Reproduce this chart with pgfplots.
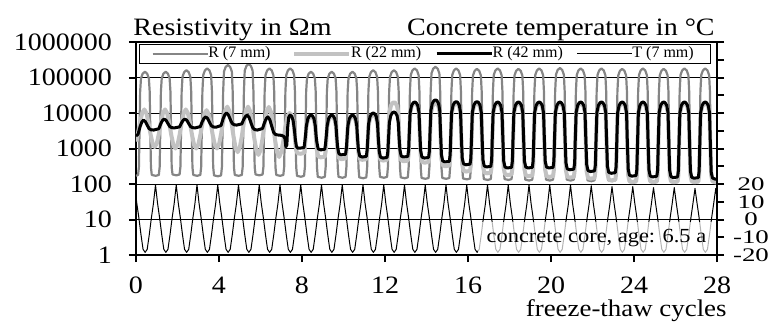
\documentclass[border=0pt]{standalone}
\usepackage{fontspec}
\setmainfont{Liberation Serif}[FakeStretch=1.12]
\newfontfamily\legendfont{Liberation Serif}
\newfontfamily\rightfont{Liberation Serif}[FakeStretch=1.4]
\usepackage{pgfplots}
\pgfplotsset{compat=1.18}
\definecolor{rseven}{gray}{0.52}
\definecolor{rtwentytwo}{gray}{0.76}

\begin{document}
\begin{tikzpicture}
\useasboundingbox (-68pt,-33.5pt) rectangle (319.5pt,127.5pt);
% resistivity (left, logarithmic)
\begin{axis}[
  name=main,
  at={(0,0)}, anchor=south west,
  scale only axis, width=290.5pt, height=106.5pt,
  xmin=0, xmax=28,
  ymode=log, ymin=1, ymax=1000000,
  xtick={0,4,...,28}, xticklabels={0,4,8,12,16,20,24,28},
  ytick={1,10,100,1000,10000,100000,1000000},
  yticklabels={1,10,100,1000,10000,100000,1000000},
  yminorticks=false, xminorticks=false,
  ymajorgrids, major grid style={black, line width=0.5pt},
  tick align=outside, major tick length=3.5pt,
  tick style={black, line width=1pt},
  xtick pos=bottom, ytick pos=left,
  axis line style={line width=1pt},
  tick label style={font=\fontsize{12.5}{14}\selectfont},
  yticklabel style={anchor=east, xshift=-5pt},
  xticklabel style={yshift=-4pt},
  legend columns=4,
  legend style={at={(0.0052,0.9906)}, anchor=north west, draw=black,
    line width=0.5pt, fill=white, inner xsep=6pt, inner ysep=0.3pt,
    font=\legendfont\fontsize{8}{9}\selectfont, nodes={inner sep=0.8pt},
    /tikz/every even column/.append style={column sep=0pt}},
  legend image code/.code={\draw[#1] (0pt,0pt) -- (27.5pt,0pt);},
]
% R (7 mm)
\addplot[rseven, line width=1.1pt, line join=round] coordinates {
(0,170)(0.10,180)(0.14,300)(0.17,3000)(0.20,40000)(0.24,94000)(0.32,128000)(0.43,145000)(0.54,128000)(0.62,94000)(0.66,40000)(0.69,3000)(0.72,300)(0.76,180)(0.95,170)
(1.10,180)(1.14,300)(1.17,3000)(1.20,40000)(1.24,94000)(1.32,128000)(1.43,145000)(1.54,128000)(1.62,94000)(1.66,40000)(1.69,3000)(1.72,300)(1.76,186)(1.95,175)
(2.10,186)(2.14,300)(2.17,3000)(2.20,40000)(2.24,104000)(2.32,141000)(2.43,160000)(2.54,141000)(2.62,104000)(2.66,40000)(2.69,3000)(2.72,300)(2.76,180)(2.95,170)
(3.10,180)(3.14,300)(3.17,3000)(3.20,40000)(3.24,117000)(3.32,158000)(3.43,180000)(3.54,158000)(3.62,117000)(3.66,40000)(3.69,3000)(3.72,300)(3.76,175)(3.95,165)
(4.10,175)(4.14,300)(4.17,3000)(4.20,40000)(4.24,146000)(4.32,198000)(4.43,225000)(4.54,198000)(4.62,146000)(4.66,40000)(4.69,3000)(4.72,300)(4.76,180)(4.95,170)
(5.10,180)(5.14,300)(5.17,3000)(5.20,40000)(5.24,156000)(5.32,211000)(5.43,240000)(5.54,211000)(5.62,156000)(5.66,40000)(5.69,3000)(5.72,300)(5.76,186)(5.95,175)
(6.10,186)(6.14,300)(6.17,3000)(6.20,40000)(6.24,117000)(6.32,158000)(6.43,180000)(6.54,158000)(6.62,117000)(6.66,40000)(6.69,3000)(6.72,300)(6.76,180)(6.95,170)
(7.10,180)(7.14,300)(7.17,3000)(7.20,40000)(7.24,117000)(7.32,158000)(7.43,180000)(7.54,158000)(7.62,117000)(7.66,40000)(7.69,3000)(7.72,300)(7.76,170)(7.95,160)
(8.10,170)(8.14,300)(8.17,3000)(8.20,40000)(8.24,94000)(8.32,128000)(8.43,145000)(8.54,128000)(8.62,94000)(8.66,40000)(8.69,3000)(8.72,300)(8.76,159)(8.95,150)
(9.10,159)(9.14,300)(9.17,3000)(9.20,40000)(9.24,94000)(9.32,128000)(9.43,145000)(9.54,128000)(9.62,94000)(9.66,40000)(9.69,3000)(9.72,300)(9.76,159)(9.95,150)
(10.10,159)(10.14,300)(10.17,3000)(10.20,40000)(10.24,94000)(10.32,128000)(10.43,145000)(10.54,128000)(10.62,94000)(10.66,40000)(10.69,3000)(10.72,300)(10.76,154)(10.95,145)
(11.10,154)(11.14,300)(11.17,3000)(11.20,40000)(11.24,104000)(11.32,141000)(11.43,160000)(11.54,141000)(11.62,104000)(11.66,40000)(11.69,3000)(11.72,300)(11.76,159)(11.95,150)
(12.10,159)(12.14,300)(12.17,3000)(12.20,40000)(12.24,104000)(12.32,141000)(12.43,160000)(12.54,141000)(12.62,104000)(12.66,40000)(12.69,3000)(12.72,300)(12.76,154)(12.95,145)
(13.10,154)(13.14,300)(13.17,3000)(13.20,40000)(13.24,117000)(13.32,158000)(13.43,180000)(13.54,158000)(13.62,117000)(13.66,40000)(13.69,3000)(13.72,300)(13.76,148)(13.95,140)
(14.10,148)(14.14,300)(14.17,3000)(14.20,40000)(14.24,130000)(14.32,176000)(14.43,200000)(14.54,176000)(14.62,130000)(14.66,40000)(14.69,3000)(14.72,300)(14.76,148)(14.95,140)
(15.10,148)(15.14,300)(15.17,3000)(15.20,40000)(15.24,117000)(15.32,158000)(15.43,180000)(15.54,158000)(15.62,117000)(15.66,40000)(15.69,3000)(15.72,300)(15.76,143)(15.95,135)
(16.10,143)(16.14,300)(16.17,3000)(16.20,40000)(16.24,114000)(16.32,154000)(16.43,175000)(16.54,154000)(16.62,114000)(16.66,40000)(16.69,3000)(16.72,300)(16.76,138)(16.95,130)
(17.10,138)(17.14,300)(17.17,3000)(17.20,40000)(17.24,117000)(17.32,158000)(17.43,180000)(17.54,158000)(17.62,117000)(17.66,40000)(17.69,3000)(17.72,300)(17.76,138)(17.95,130)
(18.10,138)(18.14,300)(18.17,3000)(18.20,40000)(18.24,114000)(18.32,154000)(18.43,175000)(18.54,154000)(18.62,114000)(18.66,40000)(18.69,3000)(18.72,300)(18.76,133)(18.95,125)
(19.10,133)(19.14,300)(19.17,3000)(19.20,40000)(19.24,117000)(19.32,158000)(19.43,180000)(19.54,158000)(19.62,117000)(19.66,40000)(19.69,3000)(19.72,300)(19.76,133)(19.95,125)
(20.10,133)(20.14,300)(20.17,3000)(20.20,40000)(20.24,120000)(20.32,163000)(20.43,185000)(20.54,163000)(20.62,120000)(20.66,40000)(20.69,3000)(20.72,300)(20.76,133)(20.95,125)
(21.10,133)(21.14,300)(21.17,3000)(21.20,40000)(21.24,117000)(21.32,158000)(21.43,180000)(21.54,158000)(21.62,117000)(21.66,40000)(21.69,3000)(21.72,300)(21.76,127)(21.95,120)
(22.10,127)(22.14,300)(22.17,3000)(22.20,40000)(22.24,117000)(22.32,158000)(22.43,180000)(22.54,158000)(22.62,117000)(22.66,40000)(22.69,3000)(22.72,300)(22.76,127)(22.95,120)
(23.10,127)(23.14,300)(23.17,3000)(23.20,40000)(23.24,114000)(23.32,154000)(23.43,175000)(23.54,154000)(23.62,114000)(23.66,40000)(23.69,3000)(23.72,300)(23.76,127)(23.95,120)
(24.10,127)(24.14,300)(24.17,3000)(24.20,40000)(24.24,117000)(24.32,158000)(24.43,180000)(24.54,158000)(24.62,117000)(24.66,40000)(24.69,3000)(24.72,300)(24.76,127)(24.95,120)
(25.10,127)(25.14,300)(25.17,3000)(25.20,40000)(25.24,114000)(25.32,154000)(25.43,175000)(25.54,154000)(25.62,114000)(25.66,40000)(25.69,3000)(25.72,300)(25.76,125)(25.95,118)
(26.10,125)(26.14,300)(26.17,3000)(26.20,40000)(26.24,117000)(26.32,158000)(26.43,180000)(26.54,158000)(26.62,117000)(26.66,40000)(26.69,3000)(26.72,300)(26.76,125)(26.95,118)
(27.10,125)(27.14,300)(27.17,3000)(27.20,40000)(27.24,117000)(27.32,158000)(27.43,180000)(27.54,158000)(27.62,117000)(27.66,40000)(27.69,3000)(27.72,300)(27.76,125)(27.95,118)
(28,118)
};
\addlegendentry{\makebox[40.25pt][l]{\hspace*{-1pt}R (7 mm)}}
% R (22 mm)
\addplot[rtwentytwo, line width=2pt, line join=round] coordinates {
(0,1570)(0.1,2790)(0.2,5690)(0.3,10100)(0.4,12600)(0.5,10000)(0.6,5420)(0.7,2550)(0.8,1380)(0.9,1100)
(1.0,1380)(1.1,2550)(1.2,5420)(1.3,10000)(1.4,12600)(1.5,9900)(1.6,5250)(1.7,2400)(1.8,1270)(1.9,1000)
(2.0,1270)(2.1,2400)(2.2,5250)(2.3,9900)(2.4,12600)(2.5,9900)(2.6,5250)(2.7,2400)(2.8,1270)(2.9,1000)
(3.0,1270)(3.1,2360)(3.2,5090)(3.3,9480)(3.4,12000)(3.5,9480)(3.6,5090)(3.7,2360)(3.8,1270)(3.9,1000)
(4.0,1300)(4.1,2550)(4.2,5930)(4.3,11700)(4.4,15100)(4.5,11400)(4.6,5470)(4.7,2200)(4.8,1050)(4.9,790)
(5.0,1050)(5.1,2200)(5.2,5470)(5.3,11400)(5.4,15100)(5.5,11200)(5.6,5140)(5.7,1950)(5.8,890)(5.9,660)
(6.0,890)(6.1,1930)(6.2,5060)(6.3,11000)(6.4,14800)(6.5,10900)(6.6,4830)(6.7,1760)(6.8,785)(6.9,575)
(7.0,800)(7.1,1600)(7.2,4000)(7.3,7900)(7.4,10000)(7.5,8900)(7.58,6300)(7.64,2800)(7.68,1400)(7.72,900)(7.78,740)(7.9,710)
(8.10,743)(8.14,1125)(8.17,1885)(8.21,3980)(8.28,6300)(8.36,7580)(8.43,7940)(8.50,7580)(8.58,6300)(8.64,3980)(8.68,1680)(8.72,891)(8.78,602)(8.90,562)
(9.10,588)(9.14,891)(9.17,1680)(9.21,3980)(9.28,6300)(9.36,7580)(9.43,7940)(9.50,7580)(9.58,6300)(9.64,3980)(9.68,1580)(9.72,794)(9.78,537)(9.90,501)
(10.10,525)(10.14,794)(10.17,1580)(10.21,3980)(10.28,6300)(10.36,7580)(10.43,7940)(10.50,7580)(10.58,6300)(10.64,3980)(10.68,1550)(10.72,759)(10.78,513)(10.90,479)
(11.10,501)(11.14,759)(11.17,1640)(11.21,4460)(11.28,7070)(11.36,8510)(11.43,8910)(11.50,8510)(11.58,7070)(11.64,4460)(11.68,1600)(11.72,724)(11.78,490)(11.90,457)
(12.10,478)(12.14,724)(12.17,2400)(12.21,10000)(12.28,15900)(12.36,19100)(12.43,20000)(12.50,19100)(12.58,15900)(12.64,10000)(12.68,2350)(12.72,693)(12.78,468)(12.90,437)
(13.10,458)(13.14,693)(13.17,2290)(13.21,9520)(13.28,15100)(13.36,18100)(13.43,19000)(13.50,18100)(13.58,15100)(13.64,9520)(13.68,2180)(13.72,631)(13.78,427)(13.90,398)
(14.10,417)(14.14,631)(14.17,2180)(14.21,9520)(14.28,15100)(14.36,18100)(14.43,19000)(14.50,18100)(14.58,15100)(14.64,9520)(14.68,1950)(14.72,501)(14.78,339)(14.90,316)
(15.10,331)(15.14,501)(15.17,1920)(15.21,9320)(15.28,14800)(15.36,17800)(15.43,18600)(15.50,17800)(15.58,14800)(15.64,9320)(15.68,1620)(15.72,355)(15.78,240)(15.90,224)
(16.10,235)(16.14,355)(16.17,1620)(16.21,9320)(16.28,14800)(16.36,17800)(16.43,18600)(16.50,17800)(16.58,14800)(16.64,9320)(16.68,1530)(16.72,317)(16.78,214)(16.90,200)
(17.10,209)(17.14,317)(17.17,1530)(17.21,9320)(17.28,14800)(17.36,17800)(17.43,18600)(17.50,17800)(17.58,14800)(17.64,9320)(17.68,1445)(17.72,282)(17.78,191)(17.90,178)
(18.10,186)(18.14,282)(18.17,1445)(18.21,9320)(18.28,14800)(18.36,17800)(18.43,18600)(18.50,17800)(18.58,14800)(18.64,9320)(18.68,1395)(18.72,263)(18.78,178)(18.90,166)
(19.10,174)(19.14,263)(19.17,1395)(19.21,9320)(19.28,14800)(19.36,17800)(19.43,18600)(19.50,17800)(19.58,14800)(19.64,9320)(19.68,1360)(19.72,250)(19.78,169)(19.90,158)
(20.10,166)(20.14,250)(20.17,1360)(20.21,9320)(20.28,14800)(20.36,17800)(20.43,18600)(20.50,17800)(20.58,14800)(20.64,9320)(20.68,1330)(20.72,240)(20.78,162)(20.90,151)
(21.10,158)(21.14,240)(21.17,1330)(21.21,9320)(21.28,14800)(21.36,17800)(21.43,18600)(21.50,17800)(21.58,14800)(21.64,9320)(21.68,1290)(21.72,224)(21.78,151)(21.90,141)
(22.10,148)(22.14,224)(22.17,1290)(22.21,9320)(22.28,14800)(22.36,17800)(22.43,18600)(22.50,17800)(22.58,14800)(22.64,9320)(22.68,1215)(22.72,200)(22.78,135)(22.90,126)
(23.10,132)(23.14,200)(23.17,1215)(23.21,9320)(23.28,14800)(23.36,17800)(23.43,18600)(23.50,17800)(23.58,14800)(23.64,9320)(23.68,1145)(23.72,178)(23.78,120)(23.90,112)
(24.10,117)(24.14,178)(24.17,1145)(24.21,9320)(24.28,14800)(24.36,17800)(24.43,18600)(24.50,17800)(24.58,14800)(24.64,9320)(24.68,1145)(24.72,178)(24.78,120)(24.90,112)
(25.10,117)(25.14,178)(25.17,1145)(25.21,9320)(25.28,14800)(25.36,17800)(25.43,18600)(25.50,17800)(25.58,14800)(25.64,9320)(25.68,1145)(25.72,178)(25.78,120)(25.90,112)
(26.10,117)(26.14,178)(26.17,1145)(26.21,9320)(26.28,14800)(26.36,17800)(26.43,18600)(26.50,17800)(26.58,14800)(26.64,9320)(26.68,1145)(26.72,178)(26.78,120)(26.90,112)
(27.10,117)(27.14,178)(27.17,1145)(27.21,9320)(27.28,14800)(27.36,17800)(27.43,18600)(27.50,17800)(27.58,14800)(27.64,9320)(27.68,1145)(27.72,178)(27.78,120)(27.90,112)
(28,112)
};
\addlegendentry{\makebox[40.25pt][l]{\hspace*{-1pt}R (22 mm)}}
% R (42 mm)
\addplot[black, line width=1.5pt, line join=round] coordinates {
(0,2240)(0.1,2540)(0.2,4170)(0.28,5570)(0.36,6310)(0.45,5730)(0.55,4430)(0.63,3650)(0.72,3370)(0.85,3310)
(1.1,3610)(1.2,5080)(1.28,6210)(1.36,6760)(1.45,6210)(1.55,4930)(1.63,4150)(1.72,3870)(1.85,3800)
(2.1,4070)(2.2,5370)(2.28,6310)(2.36,6760)(2.45,6210)(2.55,4930)(2.63,4150)(2.72,3870)(2.85,3800)
(3.1,4140)(3.2,5830)(3.28,7130)(3.36,7760)(3.45,7030)(3.55,5370)(3.63,4400)(3.72,4060)(3.85,3980)
(4.1,4450)(4.2,6920)(4.28,8950)(4.36,10000)(4.45,8890)(4.55,6500)(4.63,5140)(4.72,4680)(4.85,4570)
(5.1,4940)(5.2,6730)(5.28,8050)(5.36,8710)(5.45,7530)(5.55,5120)(5.63,3830)(5.72,3410)(5.85,3310)
(6.1,3660)(6.2,5520)(6.28,7010)(6.36,7760)(6.45,6460)(6.55,4070)(6.63,2860)(6.72,2480)(6.85,2400)
(7.0,2350)(7.12,2200)(7.18,1900)(7.22,1120)(7.27,1260)(7.31,4000)(7.36,7590)(7.42,8710)(7.5,8130)(7.57,6300)(7.63,3500)(7.68,1800)(7.73,1150)(7.8,1020)(7.9,1020)
(8.10,1070)(8.14,1620)(8.17,2370)(8.21,4360)(8.28,6920)(8.36,8320)(8.43,8710)(8.50,8320)(8.58,6920)(8.64,4360)(8.68,2240)(8.72,1450)(8.78,980)(8.90,912)
(9.10,955)(9.14,1450)(9.17,2240)(9.21,4360)(9.28,6920)(9.36,8320)(9.43,8710)(9.50,8320)(9.58,6920)(9.64,4360)(9.68,1900)(9.72,1050)(9.78,710)(9.90,661)
(10.10,690)(10.14,1050)(10.17,1900)(10.21,4360)(10.28,6920)(10.36,8320)(10.43,8710)(10.50,8320)(10.58,6920)(10.64,4360)(10.68,1780)(10.72,910)(10.78,615)(10.90,575)
(11.10,600)(11.14,910)(11.17,1900)(11.21,5010)(11.28,7940)(11.36,9550)(11.43,10000)(11.50,9550)(11.58,7940)(11.64,5010)(11.68,1840)(11.72,850)(11.78,575)(11.90,537)
(12.10,560)(12.14,850)(12.17,1900)(12.21,5360)(12.28,8500)(12.36,10200)(12.43,10700)(12.50,10200)(12.58,8500)(12.64,5360)(12.68,1970)(12.72,910)(12.78,615)(12.90,575)
(13.10,600)(13.14,910)(13.17,2720)(13.21,10200)(13.28,16200)(13.36,19500)(13.43,20400)(13.50,19500)(13.58,16200)(13.64,10200)(13.68,2630)(13.72,850)(13.78,575)(13.90,537)
(14.10,560)(14.14,850)(14.17,2810)(14.21,11700)(14.28,18600)(14.36,22400)(14.43,23400)(14.50,22400)(14.58,18600)(14.64,11700)(14.68,2480)(14.72,660)(14.78,447)(14.90,417)
(15.10,437)(15.14,660)(15.17,2350)(15.21,10500)(15.28,16600)(15.36,20000)(15.43,20900)(15.50,20000)(15.58,16600)(15.64,10500)(15.68,2140)(15.72,550)(15.78,372)(15.90,347)
(16.10,363)(16.14,550)(16.17,2140)(16.21,10500)(16.28,16600)(16.36,20000)(16.43,20900)(16.50,20000)(16.58,16600)(16.64,10500)(16.68,2000)(16.72,479)(16.78,324)(16.90,302)
(17.10,316)(17.14,479)(17.17,1970)(17.21,10200)(17.28,16200)(17.36,19500)(17.43,20400)(17.50,19500)(17.58,16200)(17.64,10200)(17.68,1900)(17.72,447)(17.78,302)(17.90,282)
(18.10,295)(18.14,447)(18.17,1900)(18.21,10200)(18.28,16200)(18.36,19500)(18.43,20400)(18.50,19500)(18.58,16200)(18.64,10200)(18.68,1900)(18.72,447)(18.78,302)(18.90,282)
(19.10,295)(19.14,447)(19.17,1900)(19.21,10200)(19.28,16200)(19.36,19500)(19.43,20400)(19.50,19500)(19.58,16200)(19.64,10200)(19.68,1900)(19.72,447)(19.78,302)(19.90,282)
(20.10,295)(20.14,447)(20.17,1900)(20.21,10200)(20.28,16200)(20.36,19500)(20.43,20400)(20.50,19500)(20.58,16200)(20.64,10200)(20.68,1800)(20.72,398)(20.78,269)(20.90,251)
(21.10,263)(21.14,398)(21.17,1800)(21.21,10200)(21.28,16200)(21.36,19500)(21.43,20400)(21.50,19500)(21.58,16200)(21.64,10200)(21.68,1700)(21.72,355)(21.78,240)(21.90,224)
(22.10,235)(22.14,355)(22.17,1700)(22.21,10200)(22.28,16200)(22.36,19500)(22.43,20400)(22.50,19500)(22.58,16200)(22.64,10200)(22.68,1600)(22.72,317)(22.78,214)(22.90,200)
(23.10,209)(23.14,317)(23.17,1600)(23.21,10200)(23.28,16200)(23.36,19500)(23.43,20400)(23.50,19500)(23.58,16200)(23.64,10200)(23.68,1460)(23.72,263)(23.78,178)(23.90,166)
(24.10,174)(24.14,263)(24.17,1460)(24.21,10200)(24.28,16200)(24.36,19500)(24.43,20400)(24.50,19500)(24.58,16200)(24.64,10200)(24.68,1430)(24.72,250)(24.78,169)(24.90,158)
(25.10,166)(25.14,250)(25.17,1430)(25.21,10200)(25.28,16200)(25.36,19500)(25.43,20400)(25.50,19500)(25.58,16200)(25.64,10200)(25.68,1390)(25.72,240)(25.78,162)(25.90,151)
(26.10,158)(26.14,240)(26.17,1390)(26.21,10200)(26.28,16200)(26.36,19500)(26.43,20400)(26.50,19500)(26.58,16200)(26.64,10200)(26.68,1365)(26.72,230)(26.78,155)(26.90,145)
(27.10,152)(27.14,230)(27.17,1365)(27.21,10200)(27.28,16200)(27.36,19500)(27.43,20400)(27.50,19500)(27.58,16200)(27.64,10200)(27.68,1330)(27.72,219)(27.78,148)(27.90,138)
(28,138)
};
\addlegendentry{\makebox[40.25pt][l]{\hspace*{-1pt}R (42 mm)}}
\addlegendimage{black, line width=0.5pt}
\addlegendentry{\makebox[31pt][l]{\hspace*{-1pt}T (7 mm)}}
\end{axis}

% concrete temperature (right, linear)
\begin{axis}[
  at={(0,0)}, anchor=south west,
  scale only axis, width=290.5pt, height=106.5pt,
  xmin=0, xmax=28, ymin=-20, ymax=100,
  axis x line=none, axis y line*=right,
  ytick={-20,-10,...,100},
  yticklabels={-20,-10,0,10,20,{},{},{},{},{},{},{},{}},
  tick align=outside, major tick length=3.5pt,
  tick style={black, line width=1pt},
  axis line style={line width=1pt},
  yticklabel style={font=\rightfont\fontsize{9.6}{10}\selectfont, anchor=center, xshift=13.5pt},
]
\addplot[black, line width=0.5pt, line join=round] coordinates {
(0,13)
(0.04,9)(0.14,0.8)(0.24,-8.5)(0.34,-16.8)(0.44,-18.5)(0.54,-16.8)(0.64,-8.5)(0.74,0.8)(0.84,9)(0.94,19.5)
(1.04,9)(1.14,0.8)(1.24,-8.5)(1.34,-16.8)(1.44,-18.5)(1.54,-16.8)(1.64,-8.5)(1.74,0.8)(1.84,9)(1.94,19.5)
(2.04,9)(2.14,0.8)(2.24,-8.5)(2.34,-16.8)(2.44,-18.5)(2.54,-16.8)(2.64,-8.5)(2.74,0.8)(2.84,9)(2.94,19.5)
(3.04,9)(3.14,0.8)(3.24,-8.5)(3.34,-16.8)(3.44,-18.5)(3.54,-16.8)(3.64,-8.5)(3.74,0.8)(3.84,9)(3.94,19.5)
(4.04,9)(4.14,0.8)(4.24,-8.5)(4.34,-16.8)(4.44,-18.5)(4.54,-16.8)(4.64,-8.5)(4.74,0.8)(4.84,9)(4.94,19.5)
(5.04,9)(5.14,0.8)(5.24,-8.5)(5.34,-16.8)(5.44,-18.5)(5.54,-16.8)(5.64,-8.5)(5.74,0.8)(5.84,9)(5.94,19.5)
(6.04,9)(6.14,0.8)(6.24,-8.5)(6.34,-16.8)(6.44,-18.5)(6.54,-16.8)(6.64,-8.5)(6.74,0.8)(6.84,9)(6.94,19.5)
(7.04,9)(7.14,0.8)(7.24,-8.5)(7.34,-16.8)(7.44,-18.5)(7.54,-16.8)(7.64,-8.5)(7.74,0.8)(7.84,9)(7.94,19.5)
(8.04,9)(8.14,0.8)(8.24,-8.5)(8.34,-16.8)(8.44,-18.5)(8.54,-16.8)(8.64,-8.5)(8.74,0.8)(8.84,9)(8.94,19.5)
(9.04,9)(9.14,0.8)(9.24,-8.5)(9.34,-16.8)(9.44,-18.5)(9.54,-16.8)(9.64,-8.5)(9.74,0.8)(9.84,9)(9.94,19.5)
(10.04,9)(10.14,0.8)(10.24,-8.5)(10.34,-16.8)(10.44,-18.5)(10.54,-16.8)(10.64,-8.5)(10.74,0.8)(10.84,9)(10.94,19.5)
(11.04,9)(11.14,0.8)(11.24,-8.5)(11.34,-16.8)(11.44,-18.5)(11.54,-16.8)(11.64,-8.5)(11.74,0.8)(11.84,9)(11.94,19.5)
(12.04,9)(12.14,0.8)(12.24,-8.5)(12.34,-16.8)(12.44,-18.5)(12.54,-16.8)(12.64,-8.5)(12.74,0.8)(12.84,9)(12.94,19.5)
(13.04,9)(13.14,0.8)(13.24,-8.5)(13.34,-16.8)(13.44,-18.5)(13.54,-16.8)(13.64,-8.5)(13.74,0.8)(13.84,9)(13.94,19.5)
(14.04,9)(14.14,0.8)(14.24,-8.5)(14.34,-16.8)(14.44,-18.5)(14.54,-16.8)(14.64,-8.5)(14.74,0.8)(14.84,9)(14.94,19.5)
(15.04,9)(15.14,0.8)(15.24,-8.5)(15.34,-16.8)(15.44,-18.5)(15.54,-16.8)(15.64,-8.5)(15.74,0.8)(15.84,9)(15.94,19.5)
(16.04,9)(16.14,0.8)(16.24,-8.5)(16.34,-16.8)(16.44,-18.5)(16.54,-16.8)(16.64,-8.5)(16.74,0.8)(16.84,9)(16.94,19.5)
(17.04,9)(17.14,0.8)(17.24,-8.5)(17.34,-16.8)(17.44,-18.5)(17.54,-16.8)(17.64,-8.5)(17.74,0.8)(17.84,9)(17.94,19.5)
(18.04,9)(18.14,0.8)(18.24,-8.5)(18.34,-16.8)(18.44,-18.5)(18.54,-16.8)(18.64,-8.5)(18.74,0.8)(18.84,9)(18.94,19.5)
(19.04,9)(19.14,0.8)(19.24,-8.5)(19.34,-16.8)(19.44,-18.5)(19.54,-16.8)(19.64,-8.5)(19.74,0.8)(19.84,9)(19.94,19.5)
(20.04,9)(20.14,0.8)(20.24,-8.5)(20.34,-16.8)(20.44,-18.5)(20.54,-16.8)(20.64,-8.5)(20.74,0.8)(20.84,9)(20.94,19.5)
(21.04,9)(21.14,0.8)(21.24,-8.5)(21.34,-16.8)(21.44,-18.5)(21.54,-16.8)(21.64,-8.5)(21.74,0.8)(21.84,9)(21.94,19)
(22.04,9)(22.14,0.8)(22.24,-8.5)(22.34,-16.8)(22.44,-18.5)(22.54,-16.8)(22.64,-8.5)(22.74,0.8)(22.84,9)(22.94,18.5)
(23.04,9)(23.14,0.8)(23.24,-8.5)(23.34,-16.8)(23.44,-18.5)(23.54,-16.8)(23.64,-8.5)(23.74,0.8)(23.84,9)(23.94,18.5)
(24.04,9)(24.14,0.8)(24.24,-8.5)(24.34,-16.8)(24.44,-18.5)(24.54,-16.8)(24.64,-8.5)(24.74,0.8)(24.84,9)(24.94,18)
(25.04,9)(25.14,0.8)(25.24,-8.5)(25.34,-16.8)(25.44,-18.5)(25.54,-16.8)(25.64,-8.5)(25.74,0.8)(25.84,9)(25.94,18)
(26.04,9)(26.14,0.8)(26.24,-8.5)(26.34,-16.8)(26.44,-18.5)(26.54,-16.8)(26.64,-8.5)(26.74,0.8)(26.84,9)(26.94,17.5)
(27.04,9)(27.14,0.8)(27.24,-8.5)(27.34,-16.8)(27.44,-18.5)(27.54,-16.8)(27.64,-8.5)(27.74,0.8)(27.84,9)(27.94,17.5)
(28,12.5)
};
% label box for the specimen
\fill[white, opacity=0.7] (axis cs:16.5,-19.3) rectangle (axis cs:27.85,-1.3);
\node[font=\fontsize{10}{12}\selectfont, anchor=center] at (axis cs:22.19,-10.4) {concrete core, age: 6.5 a};
\end{axis}

\node[anchor=base west, inner sep=0pt, font=\fontsize{12.5}{14}\selectfont]
  at ([xshift=-1.5pt, yshift=3.5pt]main.north west) {Resistivity in Ωm};
\node[anchor=base east, inner sep=0pt, font=\fontsize{12.5}{14}\selectfont]
  at ([xshift=-1pt, yshift=3.5pt]main.north east) {Concrete temperature in °C};
\node[anchor=base east, inner sep=0pt, font=\fontsize{12}{14}\selectfont]
  at ([xshift=5pt, yshift=-30.5pt]main.south east) {freeze-thaw cycles};
\end{tikzpicture}
\end{document}
